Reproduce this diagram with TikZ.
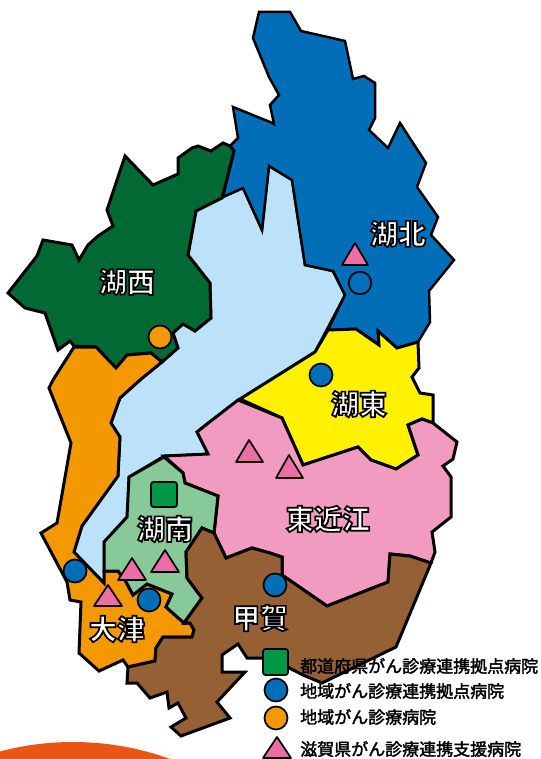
\documentclass[tikz,border=0pt]{standalone}
\usepackage{fontspec}
\setmainfont{Noto Sans CJK JP}
\newfontface\labelfont{Noto Sans CJK JP Black}
\definecolor{cBlue}{HTML}{036EB8}
\definecolor{cDark}{HTML}{006934}
\definecolor{cOrange}{HTML}{F39800}
\definecolor{cYellow}{HTML}{FFF100}
\definecolor{cPink}{HTML}{F29BC1}
\definecolor{cBrown}{HTML}{956134}
\definecolor{cLake}{HTML}{BBE2F9}
\definecolor{cMint}{HTML}{88C999}
\definecolor{cTri}{HTML}{EB6EA5}
\definecolor{cSquare}{HTML}{009844}
\definecolor{cBlob}{HTML}{EA5514}
\newcommand\outlined[1]{\special{pdf:code 2 Tr 1.7 w 0 0 0 RG}#1\special{pdf:code 0 Tr 1 w}}
\newcommand\heavier[1]{\special{pdf:code 2 Tr 0.35 w 0 0 0 RG}#1\special{pdf:code 0 Tr 1 w}}
\tikzset{
  region/.style={draw=black,line width=3pt,line join=miter},
  north region/.style={draw=black,line width=2.5pt,line join=miter},
  marker/.style={draw=black,line width=1.7pt,line join=round},
  area label/.style={text=white,font=\labelfont\fontsize{28}{28}\selectfont,inner sep=0pt},
  legend text/.style={text=black,anchor=west,font=\fontsize{17}{18}\selectfont,inner sep=0pt},
}
\begin{document}
\begin{tikzpicture}[x=1pt,y=-1pt]
\useasboundingbox (0,0) rectangle (540,759);
\fill[white] (0,0) rectangle (540,759);
\begin{scope}
\clip (0,0) rectangle (540,759);
\fill[cBlob] (73,1027) circle[radius=285];
\end{scope}
% lake
\draw[north region,fill=cLake] (196,211)--(223,197)--(243,188)--(262,230)--(269,166)--(292,180)--(305,265)--(333,271)--(345,295)--(315,352)--(240,399)--(207,424)--(197,432)--(208,454)--(164,456)--(129,477)--(127,517)--(104,542)--(104,583)--(74,552)--(82,526)--(118,476)--(120,437)--(111,423)--(120,398)--(140,380)--(162,362)--(178,348)--(173,333)--(183,324)--(195,331)--(211,318)--(210,283)--(188,255)--cycle;
% Kohoku
\draw[north region,fill=cBlue] (259,12)--(290,12)--(301,31)--(345,41)--(353,79)--(364,76)--(375,83)--(375,118)--(369,130)--(388,148)--(400,123)--(426,163)--(417,187)--(438,217)--(431,235)--(454,260)--(429,291)--(430,322)--(418,342)--(397,348)--(378,331)--(379,345)--(356,329)--(328,330)--(345,295)--(333,271)--(305,265)--(292,180)--(269,166)--(262,230)--(243,188)--(223,197)--(234,151)--(230,146)--(238,138)--(233,107)--(270,122)--(274,124)--(270,105)--(279,95)--(269,77)--(253,38)--cycle;
% Kosei
\draw[region,fill=cDark] (230,146)--(223,143)--(211,151)--(198,146)--(192,148)--(178,158)--(178,174)--(153,185)--(125,156)--(107,210)--(113,226)--(98,236)--(88,245)--(79,260)--(72,245)--(43,240)--(37,256)--(8,293)--(25,308)--(45,313)--(58,350)--(70,341)--(74,346)--(96,347)--(116,368)--(127,355)--(151,353)--(162,362)--(178,348)--(173,333)--(183,324)--(195,331)--(211,318)--(210,283)--(188,255)--(196,211)--(222,198)--(234,151)--cycle;
% Otsu and west shore
\draw[region,fill=cOrange] (74,347)--(53,380)--(49,388)--(71,443)--(57,523)--(41,533)--(67,582)--(70,600)--(81,602)--(79,653)--(99,671)--(123,660)--(128,667)--(155,661)--(156,648)--(163,637)--(192,637)--(194,630)--(190,623)--(184,623)--(166,607)--(172,594)--(147,584)--(133,595)--(125,580)--(118,571)--(104,571)--(104,583)--(74,552)--(82,526)--(118,476)--(120,437)--(111,423)--(120,398)--(140,380)--(162,362)--(151,353)--(127,355)--(116,368)--(96,347)--cycle;
% Koto
\draw[region,fill=cYellow] (328,330)--(356,329)--(379,345)--(378,331)--(397,348)--(418,342)--(419,368)--(412,377)--(420,393)--(433,395)--(433,423)--(422,419)--(408,425)--(418,455)--(396,469)--(371,460)--(358,447)--(303,465)--(282,418)--(240,399)--(315,352)--cycle;
% Higashiomi
\draw[region,fill=cPink] (238,400)--(282,418)--(303,465)--(358,447)--(371,460)--(396,469)--(418,455)--(408,425)--(422,419)--(433,423)--(457,442)--(453,459)--(443,466)--(451,477)--(451,517)--(432,532)--(435,552)--(431,563)--(410,556)--(390,554)--(388,582)--(327,606)--(282,575)--(282,557)--(270,553)--(252,548)--(226,558)--(214,533)--(218,496)--(185,483)--(183,473)--(164,456)--(208,454)--(197,432)--(207,424)--cycle;
% Konan
\draw[region,fill=cMint] (164,457)--(183,473)--(185,483)--(218,496)--(214,533)--(202,528)--(186,552)--(187,578)--(202,598)--(184,623)--(166,607)--(172,594)--(147,584)--(133,595)--(125,580)--(118,571)--(104,571)--(104,542)--(127,517)--(129,477)--cycle;
% Koka
\draw[region,fill=cBrown] (202,528)--(214,533)--(226,558)--(252,548)--(270,553)--(282,557)--(282,575)--(327,606)--(388,582)--(390,554)--(410,556)--(431,563)--(396,647)--(322,683)--(303,675)--(270,658)--(247,658)--(238,644)--(222,655)--(222,672)--(245,672)--(217,702)--(230,718)--(181,736)--(171,727)--(186,718)--(178,703)--(169,708)--(167,692)--(150,698)--(137,683)--(127,683)--(128,667)--(155,661)--(156,648)--(163,637)--(192,637)--(194,630)--(190,623)--(184,623)--(202,598)--(187,578)--(186,552)--cycle;
% markers
\draw[marker,fill=cTri] (355,243)--(368,265)--(342,265)--cycle;
\draw[marker,fill=cBlue] (360,283) circle[radius=11.3];
\draw[marker,fill=cOrange] (160,337) circle[radius=11.5];
\draw[marker,fill=cBlue] (321,375) circle[radius=11.5];
\draw[marker,fill=cTri] (249,440)--(263,462)--(236,462)--cycle;
\draw[marker,fill=cTri] (289,455)--(303,478)--(276,478)--cycle;
\draw[marker,fill=cSquare,rounded corners=2.5pt] (151,482) rectangle (177,507);
\draw[marker,fill=cTri] (165,550)--(179,572)--(151,572)--cycle;
\draw[marker,fill=cTri] (132,558)--(146,580)--(118,580)--cycle;
\draw[marker,fill=cTri] (108,585)--(122,606)--(94,606)--cycle;
\draw[marker,fill=cBlue] (75,571) circle[radius=11.5];
\draw[marker,fill=cBlue] (149,600) circle[radius=11.5];
\draw[marker,fill=cBlue] (275,585) circle[radius=11.5];
% area labels
\node[area label] (kosei) at (127,282) {\outlined{湖西}};
\node[area label] (kohoku) at (398,234) {\outlined{湖北}};
\node[area label] (koto) at (359,404) {\outlined{湖東}};
\node[area label] (higashiomi) at (328,519) {\outlined{東近江}};
\node[area label] (konan) at (165,529) {\outlined{湖南}};
\node[area label] (koka) at (260,618) {\outlined{甲賀}};
\node[area label] (otsu) at (117,629) {\outlined{大津}};
% legend
\draw[marker,fill=cSquare,rounded corners=2.5pt] (263,649) rectangle (288,675);
\draw[marker,fill=cBlue] (276,690) circle[radius=11.5];
\draw[marker,fill=cOrange] (276,718) circle[radius=11.5];
\draw[marker,fill=cTri] (277,737)--(291,758)--(263,758)--cycle;
\node[legend text] (lg1) at (300,666) {\heavier{都道府県がん診療連携拠点病院}};
\node[legend text] (lg2) at (300,691) {\heavier{地域がん診療連携拠点病院}};
\node[legend text] (lg3) at (300,717) {\heavier{地域がん診療病院}};
\node[legend text] (lg4) at (300,749) {\heavier{滋賀県がん診療連携支援病院}};
\end{tikzpicture}
\end{document}
